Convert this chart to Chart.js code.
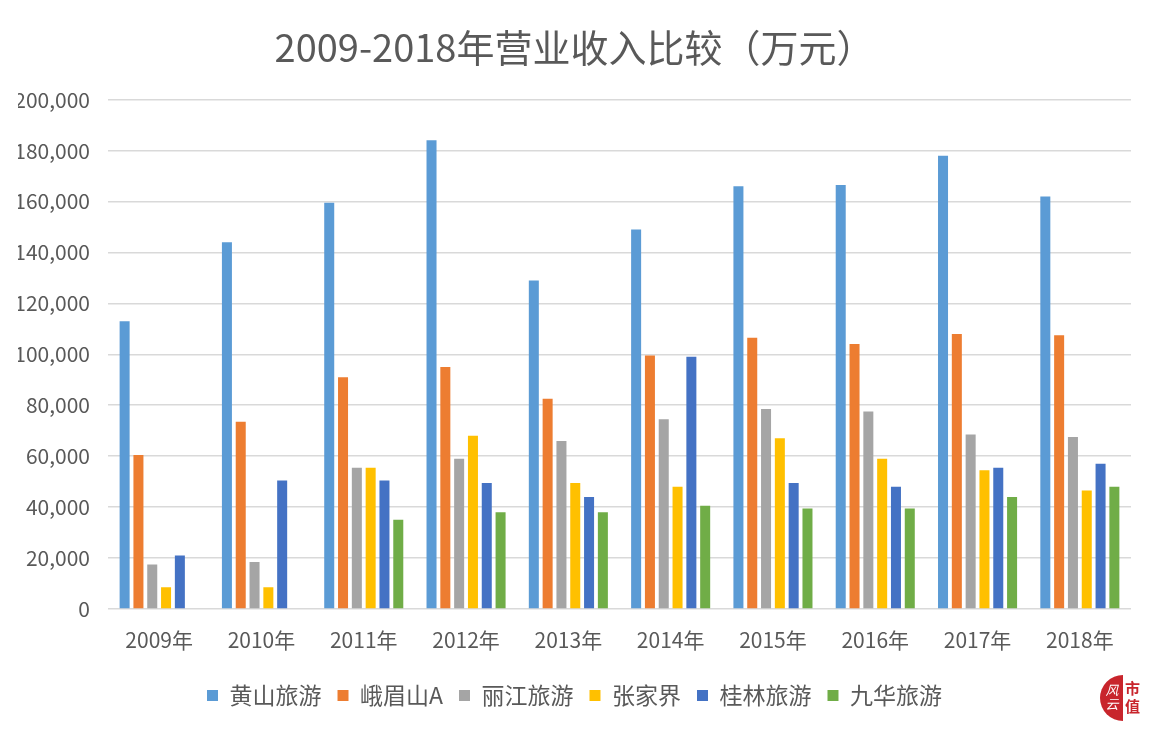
<!DOCTYPE html>
<html>
<head>
<meta charset="utf-8">
<script src="https://cdn.jsdelivr.net/npm/chart.js@4.4.0/dist/chart.umd.min.js"></script>
<style>
  html, body { margin: 0; padding: 0; background: #ffffff; }
  #wrap { position: relative; width: 1156px; height: 733px; }
  #logo { position: absolute; left: 1100px; top: 675px; width: 46px; height: 46px; }
  #logo .half { position: absolute; left: 0; top: 0; width: 46px; height: 46px; border-radius: 50%;
    background: linear-gradient(to right, #c8252c 50%, transparent 50%); }
  #logo .a { position: absolute; left: 2px; top: 8px; color: #fff; font: italic 13px "Noto Sans CJK SC"; line-height: 14px; width: 20px; text-align: center; }
  #logo .b { position: absolute; left: 25px; top: 4px; color: #c8252c; font: bold 15px "Noto Sans CJK SC"; line-height: 18px; }
</style>
</head>
<body>
<div id="wrap">
  <canvas id="c" width="1156" height="733"></canvas>
  <div id="logo"><div class="half"></div><div class="a">风<br>云</div><div class="b">市<br>值</div></div>
</div>
<script>
const categories = ['2009年','2010年','2011年','2012年','2013年','2014年','2015年','2016年','2017年','2018年'];
const seriesNames = ['黄山旅游','峨眉山A','丽江旅游','张家界','桂林旅游','九华旅游'];
const huangshan = [113000,144000,159500,184000,129000,149000,166000,166500,178000,162000];
const emeishan  = [60500,73500,91000,95000,82500,99500,106500,104000,108000,107500];
const lijiang   = [17500,18500,55500,59000,66000,74500,78500,77500,68500,67500];
const zhangjiajie = [8500,8500,55500,68000,49500,48000,67000,59000,54500,46500];
const guilin    = [21000,50500,50500,49500,44000,99000,49500,48000,55500,57000];
const jiuhua    = [0,0,35000,38000,38000,40500,39500,39500,44000,48000];
const yTicks = [0,20000,40000,60000,80000,100000,120000,140000,160000,180000,200000];

const colors = ['#5B9BD5','#ED7D31','#A5A5A5','#FFC000','#4472C4','#70AD47'];
const allSeries = [huangshan, emeishan, lijiang, zhangjiajie, guilin, jiuhua];
const txt = '#595959';
const fontFam = '"Noto Sans CJK SC", "Noto Sans", sans-serif';

new Chart(document.getElementById('c'), {
  type: 'bar',
  data: {
    labels: categories,
    datasets: allSeries.map((d, i) => ({
      label: seriesNames[i],
      data: d,
      backgroundColor: colors[i],
      borderWidth: 0,
      categoryPercentage: 0.81,
      barPercentage: 0.725
    }))
  },
  options: {
    responsive: false,
    animation: false,
    layout: { padding: { left: 18, right: 25, top: 0, bottom: 16 } },
    plugins: {
      title: {
        display: true,
        text: '2009-2018年营业收入比较（万元）',
        color: txt,
        font: { family: fontFam, size: 38, weight: 'normal' },
        padding: { top: 25, bottom: 29 }
      },
      legend: {
        position: 'bottom',
        labels: {
          color: txt,
          font: { family: fontFam, size: 23 },
          boxWidth: 11, boxHeight: 11,
          padding: 16
        }
      },
      tooltip: { enabled: false }
    },
    scales: {
      x: {
        grid: { display: false, drawTicks: false },
        border: { display: false },
        ticks: { color: txt, font: { family: fontFam, size: 21 }, padding: 18, maxRotation: 0 },
        afterFit: s => { s.height = 59; }
      },
      y: {
        min: 0, max: 200000,
        afterBuildTicks: s => { s.ticks = yTicks.map(v => ({ value: v })); },
        grid: { color: '#d9d9d9', lineWidth: 1.5, drawTicks: false },
        border: { display: false },
        ticks: {
          color: txt, font: { family: fontFam, size: 21 }, padding: 18,
          callback: v => v.toLocaleString('en-US')
        },
        afterFit: s => { s.width = 90; }
      }
    }
  }
});
</script>
</body>
</html>
